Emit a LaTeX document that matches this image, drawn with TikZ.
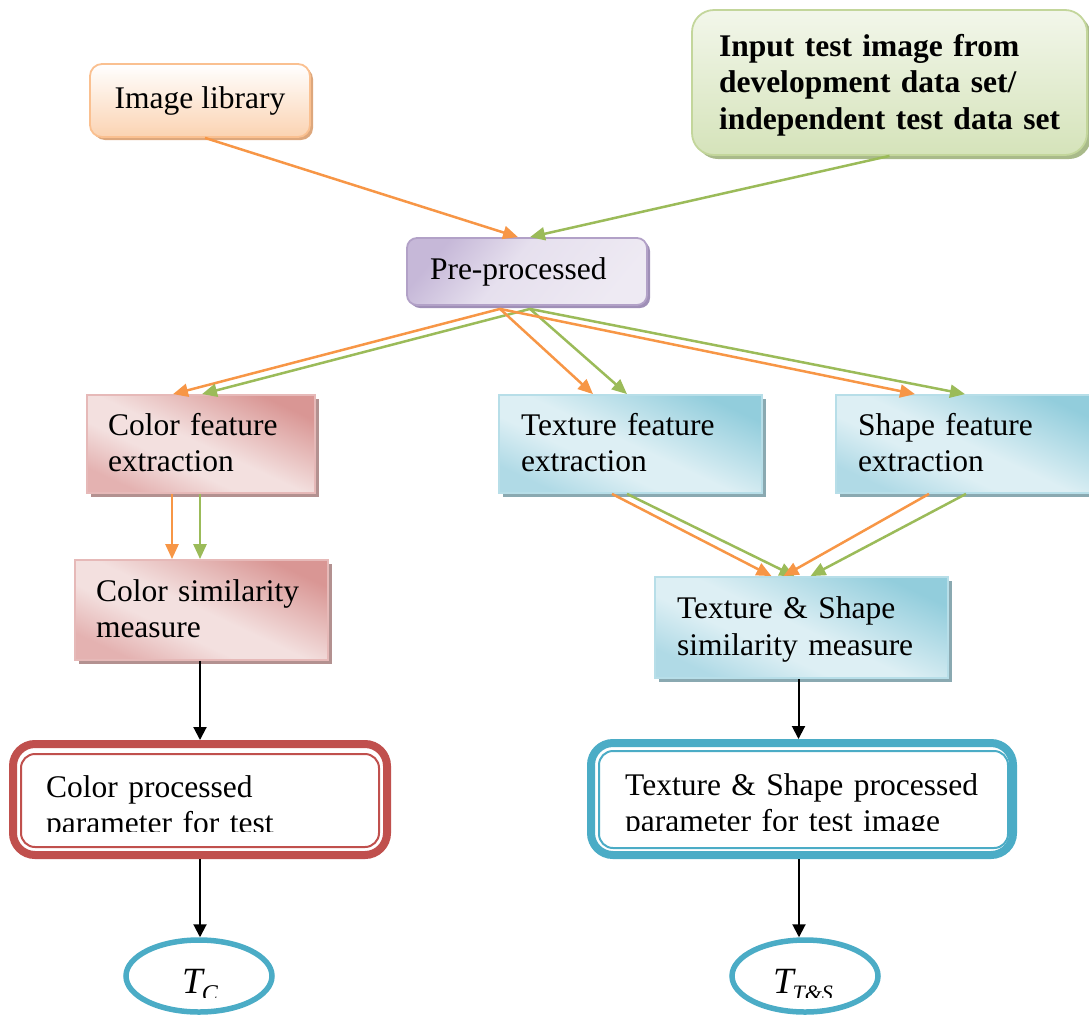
\documentclass[tikz,border=0pt]{standalone}
\usepackage{fontspec}
\setmainfont{Liberation Serif}
\usetikzlibrary{arrows.meta,shapes.geometric,shadows,calc}

\definecolor{orangeline}{HTML}{F79646}
\definecolor{greenline}{HTML}{9BBB59}
\definecolor{libline}{HTML}{FAC090}
\definecolor{libfill}{HTML}{FBD3B2}
\definecolor{libshade}{HTML}{DDA77C}
\definecolor{inpline}{HTML}{C3D69B}
\definecolor{inpfill}{HTML}{D5E3BA}
\definecolor{inpshade}{HTML}{A9BA8A}
\definecolor{preline}{HTML}{B2A1C7}
\definecolor{predark}{HTML}{C6B8D8}
\definecolor{prelight}{HTML}{E6E0EE}
\definecolor{prepale}{HTML}{EEEAF3}
\definecolor{preshade}{HTML}{9F8FB7}
\definecolor{pinkline}{HTML}{E6B9B8}
\definecolor{pinkdark}{HTML}{D99694}
\definecolor{pinkmid}{HTML}{E4B2B1}
\definecolor{pinklight}{HTML}{F3E0DF}
\definecolor{pinkshade}{HTML}{B39190}
\definecolor{blueline}{HTML}{B7DEE8}
\definecolor{bluedark}{HTML}{92CDDC}
\definecolor{bluemid}{HTML}{B0DAE6}
\definecolor{bluelight}{HTML}{DDEFF4}
\definecolor{blueshade}{HTML}{8AA9B1}
\definecolor{redframe}{HTML}{C0504D}
\definecolor{blueframe}{HTML}{4BACC6}

% diagonal fills: light band through the middle, darker corners
\pgfdeclarehorizontalshading{pinkfill}{100bp}{color(0bp)=(pinkmid); color(25bp)=(pinkmid);
  color(40bp)=(pinklight); color(50bp)=(pinklight); color(75bp)=(pinkdark); color(100bp)=(pinkdark)}
\pgfdeclarehorizontalshading{bluefill}{100bp}{color(0bp)=(bluemid); color(25bp)=(bluemid);
  color(40bp)=(bluelight); color(50bp)=(bluelight); color(75bp)=(bluedark); color(100bp)=(bluedark)}
\pgfdeclarehorizontalshading{purplefill}{100bp}{color(0bp)=(predark); color(25bp)=(predark);
  color(45bp)=(prelight); color(75bp)=(prepale); color(100bp)=(prepale)}

\begin{document}
\begin{tikzpicture}[x=1pt,y=-1pt,
  txt/.style={font=\fontsize{31.5}{36.5}\selectfont},
  libbox/.style={txt, draw=libline, line width=1.8pt, rounded corners=12pt,
    top color=white, bottom color=libfill,
    drop shadow={shadow xshift=3pt, shadow yshift=-3pt, fill=libshade, opacity=1},
    minimum width=220pt, minimum height=73pt, inner sep=0pt},
  inpbox/.style={draw=inpline, line width=1.8pt, rounded corners=22pt,
    top color=white!70!inpfill, bottom color=inpfill,
    drop shadow={shadow xshift=4pt, shadow yshift=-4pt, fill=inpshade, opacity=1},
    minimum width=395pt, minimum height=145pt, text width=341pt, inner xsep=27pt, inner ysep=0pt,
    font=\fontsize{31.5}{36.5}\selectfont\bfseries, align=left,
    text height=24pt, text depth=77pt},
  prebox/.style={txt, draw=preline, line width=1.8pt, rounded corners=10pt,
    shading=purplefill, shading angle=-40,
    drop shadow={shadow xshift=3pt, shadow yshift=-3pt, fill=preshade, opacity=1},
    minimum height=67pt, text width=194pt, inner xsep=23pt, inner ysep=0pt, align=left},
  featbox/.style={txt, line width=1.8pt, inner xsep=#1, inner ysep=0pt,
    align=left, text height=24pt, text depth=42pt},
  pinkbox/.style={featbox=21pt, draw=pinkline, shading=pinkfill, shading angle=65,
    drop shadow={shadow xshift=4pt, shadow yshift=-4pt, fill=pinkshade, opacity=1}},
  bluebox/.style={featbox=22pt, draw=blueline, shading=bluefill, shading angle=65,
    drop shadow={shadow xshift=4pt, shadow yshift=-4pt, fill=blueshade, opacity=1}},
  framebox/.style={draw=#1, line width=8pt, rounded corners=22pt, fill=white},
  innerframe/.style={draw=#1, line width=2pt, rounded corners=14pt},
  frametext/.style={txt, anchor=base west, align=left, inner sep=0pt, text width=#1},
  oval/.style={ellipse, draw=blueframe, line width=5.5pt,
    minimum width=146pt, minimum height=72pt, inner sep=0pt},
  ovaltext/.style={anchor=base, inner sep=0pt, font=\fontsize{37}{40}\selectfont\itshape},
  oarr/.style={draw=orangeline, line width=2.5pt, -{Triangle[length=15pt,width=13pt]}},
  garr/.style={draw=greenline, line width=2.5pt, -{Triangle[length=15pt,width=13pt]}},
  barr/.style={draw=black, line width=2pt, -{Triangle[length=13pt,width=13pt]}}
]
\useasboundingbox (0,0) rectangle (1089,1018);

% sources
\node[libbox] (lib) at (200,100.5) {Image library};
\node[inpbox] (inp) at (889.5,82.5)
  {\mbox{Input test image from}\\\mbox{development data set/}\\\mbox{independent test data set}};

% pre-processing
\node[prebox] (pre) at (527,271.5) {Pre-processed};

% feature extraction
\node[pinkbox, text width=186pt, minimum height=98pt] (cfe) at (201,444) {Color feature extraction};
\node[bluebox, text width=219pt, minimum height=98pt] (tfe) at (630.5,444) {Texture feature extraction};
\node[bluebox, text width=221pt, minimum height=98pt] (sfe) at (968.5,444) {Shape feature extraction};

% similarity measures
\node[pinkbox, text width=211pt, minimum height=100pt] (csm) at (201.5,610) {Color similarity measure};
\node[bluebox, text width=249pt, minimum height=101pt] (tsm) at (801.5,627.5) {Texture \& Shape similarity measure};

% processed parameters
\node[framebox=redframe, minimum width=374pt, minimum height=111pt] (cp) at (200,799.5) {};
\draw[innerframe=redframe] ($(cp.north west)+(12,14)$) rectangle ($(cp.south east)+(-12,-12)$);
\node[framebox=blueframe, minimum width=422pt, minimum height=112pt] (tp) at (802,799) {};
\draw[innerframe=blueframe] ($(tp.north west)+(12,12)$) rectangle ($(tp.south east)+(-9,-11)$);

\begin{scope}
  \clip (22,756) rectangle (378,831);
  \node[frametext=320pt] (cptext) at (46,797) {Color processed\\parameter for test};
\end{scope}
\begin{scope}
  \clip (600,753) rectangle (1007,830);
  \node[frametext=370pt] (tptext) at (625,795) {Texture \& Shape processed\\parameter for test image};
\end{scope}

% results
\node[oval] (tc) at (199,976) {};
\node[oval] (tts) at (805,976) {};
\begin{scope}
  \clip (130,940) rectangle (270,997);
  \node[ovaltext] (tclabel) at (200,993)
    {T\kern-1pt\raisebox{-8pt}{\fontsize{24}{24}\selectfont C}};
\end{scope}
\begin{scope}
  \clip (735,940) rectangle (878,997);
  \node[ovaltext] (ttslabel) at (803,993)
    {T\kern-1pt\raisebox{-7pt}{\fontsize{22}{22}\selectfont T\&S}};
\end{scope}

% connectors: sources to pre-processing
\draw[oarr] ([xshift=5pt]lib.south) -- ([xshift=-9pt]pre.north);
\draw[garr] (inp.south) -- ([xshift=3pt]pre.north);

% pre-processing to feature extraction
\draw[oarr] ([xshift=-27pt,yshift=-3pt]pre.south) -- ([xshift=-28pt]cfe.north);
\draw[garr] ([xshift=3pt,yshift=-3pt]pre.south) -- ([xshift=1pt]cfe.north);
\draw[oarr] ([xshift=-27pt,yshift=-3pt]pre.south) -- ([xshift=-37.5pt]tfe.north);
\draw[garr] ([xshift=3pt,yshift=-3pt]pre.south) -- ([xshift=-3.5pt]tfe.north);
\draw[oarr] ([xshift=-27pt,yshift=-3pt]pre.south) -- ([xshift=-53.5pt]sfe.north);
\draw[garr] ([xshift=3pt,yshift=-3pt]pre.south) -- ([xshift=-3.5pt]sfe.north);

% feature extraction to similarity measures
\draw[oarr] ([xshift=-29pt]cfe.south) -- ([xshift=-29pt]cfe.south |- csm.north);
\draw[garr] ([xshift=-1pt]cfe.south) -- ([xshift=-1pt]cfe.south |- csm.north);
\draw[oarr] ([xshift=-18.5pt]tfe.south) -- ([xshift=-30pt]tsm.north);
\draw[garr] ([xshift=-3.5pt]tfe.south) -- ([xshift=-7pt]tsm.north);
\draw[oarr] ([xshift=-39.5pt]sfe.south) -- ([xshift=-18pt]tsm.north);
\draw[garr] ([xshift=-2.5pt]sfe.south) -- ([xshift=9pt]tsm.north);

% similarity measures to results
\draw[barr] ([xshift=-1.5pt]csm.south) -- ([xshift=-1.5pt]csm.south |- cp.north);
\draw[barr] (cp.south) -- (cp.south |- tc.north);
\draw[barr] ([xshift=-3pt]tsm.south) -- ([xshift=-3pt]tsm.south |- tp.north);
\draw[barr] ([xshift=-3pt]tp.south) -- ([xshift=-3pt]tp.south |- tts.north);
\end{tikzpicture}
\end{document}
